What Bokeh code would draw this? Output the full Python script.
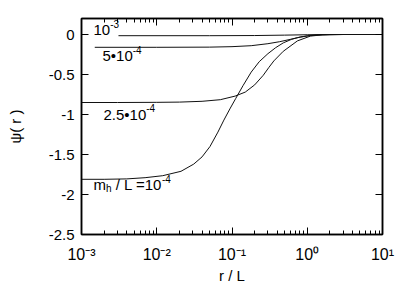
from bokeh.plotting import figure
from bokeh.models import Range1d, FixedTicker, LogAxis, LinearAxis, Label
from bokeh.embed import file_html
from bokeh.resources import INLINE

# ---- data ----
x_1e3 = [0.0031, 0.05, 0.2, 0.5, 1.0, 2.0, 10.0]
y_1e3 = [-0.015, -0.015, -0.013, -0.008, -0.003, 0.0, 0.0]

x_5e4 = [0.0015, 0.01, 0.05, 0.1, 0.18, 0.3, 0.43, 0.6, 0.74, 1.0, 1.4, 2.0, 10.0]
y_5e4 = [-0.16, -0.16, -0.158, -0.152, -0.14, -0.115, -0.09, -0.06, -0.04, -0.018, -0.005, 0.0, 0.0]

x_25e4 = [0.001, 0.003, 0.01, 0.02, 0.04, 0.07, 0.11, 0.15, 0.20, 0.26, 0.31, 0.36, 0.48, 0.74, 1.1, 1.6, 3.0, 10.0]
y_25e4 = [-0.85, -0.85, -0.848, -0.845, -0.835, -0.815, -0.77, -0.72, -0.63, -0.51, -0.41, -0.33, -0.21, -0.08, -0.02, -0.004, 0.0, 0.0]

x_1e4 = [0.001, 0.002, 0.004, 0.007, 0.012, 0.021, 0.031, 0.04, 0.051, 0.065, 0.078, 0.095, 0.112, 0.14,
         0.18, 0.23, 0.30, 0.38, 0.48, 0.62, 0.81, 1.1, 1.5, 3.0, 10.0]
y_1e4 = [-1.81, -1.81, -1.805, -1.79, -1.765, -1.71, -1.62, -1.53, -1.40, -1.22, -1.07, -0.92, -0.80, -0.64,
         -0.47, -0.34, -0.24, -0.165, -0.105, -0.06, -0.03, -0.012, -0.004, 0.0, 0.0]

x_ticks = [0.001, 0.01, 0.1, 1.0, 10.0]
x_tick_labels = ["10\u207b\u00b3", "10\u207b\u00b2", "10\u207b\u00b9", "10\u2070", "10\u00b9"]
x_minor = [m * d for d in [0.001, 0.01, 0.1, 1.0] for m in range(2, 10)]
y_ticks = [-2.5, -2.0, -1.5, -1.0, -0.5, 0.0]
y_tick_labels = ["-2.5", "-2", "-1.5", "-1", "-0.5", "0"]

FONT = "Liberation Sans"
FS = 15
FS_SMALL = 10
CHAR_W = {"0": .556, "1": .556, "2": .556, "3": .556, "4": .556, "5": .556, ".": .278, "\u2022": .35,
          "-": .333, "m": .833, "h": .556, " ": .278, "/": .278, "L": .556, "=": .584, "r": .333}


def text_w(s, fs):
    return sum(CHAR_W.get(c, .556) for c in s) * fs


p = figure(width=409, height=286, x_axis_type="log",
           x_range=Range1d(1e-3, 10.0), y_range=Range1d(-2.5, 0.2),
           output_backend="svg", toolbar_location=None,
           min_border_left=81, min_border_right=27, min_border_top=18, min_border_bottom=48)
p.grid.visible = False
p.outline_line_color = "black"
p.outline_line_width = 1.5
p.background_fill_color = "white"
p.border_fill_color = "white"

xt = FixedTicker(ticks=x_ticks, minor_ticks=x_minor)
yt = FixedTicker(ticks=y_ticks, minor_ticks=[])


def style_axis(ax, labels=True):
    ax.axis_line_color = "black"
    ax.axis_line_width = 1.5
    ax.major_tick_in = 7
    ax.major_tick_out = 0
    ax.minor_tick_in = 4
    ax.minor_tick_out = 0
    ax.major_tick_line_color = "black"
    ax.minor_tick_line_color = "black"
    ax.major_tick_line_width = 1
    ax.minor_tick_line_width = 1
    if labels:
        ax.major_label_text_font = FONT
        ax.major_label_text_font_size = f"{FS}px"
        ax.major_label_text_color = "black"
        ax.axis_label_text_font = FONT
        ax.axis_label_text_font_size = f"{FS}px"
        ax.axis_label_text_font_style = "normal"
        ax.axis_label_text_color = "black"
    else:
        ax.major_label_text_font_size = "0px"
        ax.major_label_text_alpha = 0
        ax.major_label_standoff = 0


xa = p.xaxis[0]
xa.ticker = xt
style_axis(xa)
xa.major_label_overrides = {t: s for t, s in zip(x_ticks, x_tick_labels)}
xa.major_label_text_font_size = "16px"
xa.major_label_standoff = 11
xa.axis_label = "r / L"
xa.axis_label_standoff = 1

ya = p.yaxis[0]
ya.ticker = yt
style_axis(ya)
ya.major_label_overrides = {t: s for t, s in zip(y_ticks, y_tick_labels)}
ya.major_label_standoff = 7
ya.axis_label = "\u03c8( r )"
ya.axis_label_standoff = 22

top = LogAxis(ticker=xt)
style_axis(top, labels=False)
p.add_layout(top, "above")
right = LinearAxis(ticker=yt)
style_axis(right, labels=False)
p.add_layout(right, "right")

for xs, ys in [(x_1e3, y_1e3), (x_5e4, y_5e4), (x_25e4, y_25e4), (x_1e4, y_1e4)]:
    p.line(xs, ys, line_color="#111111", line_width=1)


def lab(**kw):
    base = dict(text_font=FONT, text_color="black", text_baseline="middle", text_align="left")
    base.update(kw)
    p.add_layout(Label(**base))


def rich(parts, x0, y0):
    # screen units are measured from the frame's bottom-left corner
    x = x0
    for s, kind in parts:
        fs = FS if kind == "n" else FS_SMALL
        dy = {"n": 0, "sup": 6, "sub": -4}[kind]
        lead = len(s) - len(s.lstrip(" "))
        x += text_w(" " * lead, fs)
        s2 = s.lstrip(" ")
        lab(x=x, y=y0 + dy, x_units="screen", y_units="screen", text=s2, text_font_size=f"{fs}px")
        x += text_w(s2, fs)


rich([("10", "n"), ("-3", "sup")], 12, 205)
rich([("5\u202210", "n"), ("-4", "sup")], 21, 179)
rich([("2.5\u202210", "n"), ("-4", "sup")], 22, 120.5)
rich([("m", "n"), ("h", "sub"), (" / L =10", "n"), ("-4", "sup")], 12, 50)

open("out.html", "w").write(file_html(p, INLINE))
